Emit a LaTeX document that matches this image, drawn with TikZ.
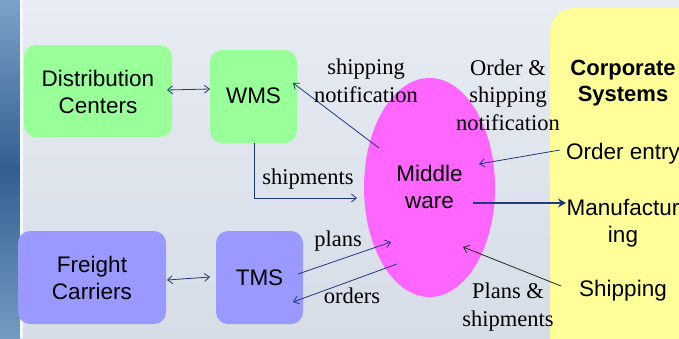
\documentclass[tikz,border=0pt]{standalone}
\usepackage{fontspec}
\setmainfont{Liberation Serif}
\setsansfont{Liberation Sans}
\usetikzlibrary{arrows.meta,shapes.geometric}

\definecolor{bgtop}{HTML}{E8ECF3}
\definecolor{bgbot}{HTML}{D6DDE7}
\definecolor{stripA}{HTML}{7AA3C8}
\definecolor{stripB}{HTML}{335E90}
\definecolor{dcgreen}{HTML}{99FF99}
\definecolor{fcblue}{HTML}{9999FF}
\definecolor{mwpink}{HTML}{FF66FF}
\definecolor{corpyellow}{HTML}{FFFF99}
\definecolor{linkblue}{HTML}{1F3A78}

\tikzset{
  sysbox/.style={rounded corners=12pt, inner sep=0pt},
  boxtext/.style={font=\sffamily\fontsize{22.5}{27}\selectfont, align=center, text=black},
  flowlabel/.style={font=\rmfamily\fontsize{22.5}{27.5}\selectfont, align=center, text=black, inner sep=0pt},
  link/.style={draw=linkblue, line width=0.8pt, -{Straight Barb[length=5pt,width=8pt]}},
  twoway/.style={draw=linkblue, line width=0.8pt, {Straight Barb[length=5pt,width=8pt]}-{Straight Barb[length=5pt,width=8pt]}},
  bold link/.style={draw=linkblue, line width=1.8pt, -{Stealth[length=8pt,width=9pt]}},
}

\begin{document}
\begin{tikzpicture}[x=1pt,y=-1pt]
  \useasboundingbox (0,0) rectangle (679,338);
  % backdrop
  \shade[top color=bgtop, bottom color=bgbot] (0,0) rectangle (679,338);
  \shade[top color=stripA, bottom color=stripA!90!stripB, middle color=stripB] (0,0) rectangle (20,338);
  \fill[white!75!bgbot] (20,0) rectangle (23,338);

  % corporate column
  \begin{scope}
    \clip (0,0) rectangle (679,338);
    \fill[corpyellow, rounded corners=24pt] (550,8) rectangle (720,380);
  \end{scope}

  % systems
  \fill[dcgreen, sysbox] (24,45) rectangle (172,137);
  \node[boxtext] (dc) at (98,92) {Distribution\\Centers};
  \fill[dcgreen, sysbox] (210,50) rectangle (297,143);
  \node[boxtext] (wms) at (253.5,96) {WMS};
  \fill[fcblue, sysbox] (18,231) rectangle (166,324);
  \node[boxtext] (fc) at (92,278) {Freight\\Carriers};
  \fill[fcblue, sysbox] (216,231) rectangle (303,324);
  \node[boxtext] (tms) at (259.5,278) {TMS};

  \fill[mwpink] (429.5,187.5) ellipse [x radius=65.5, y radius=109.5];
  \node[boxtext] (mw) at (429.5,187) {Middle\\ware};

  \node[boxtext, font=\sffamily\bfseries\fontsize{22}{26}\selectfont] (corp) at (623,83) {Corporate\\Systems};
  \node[boxtext] (oe) at (623,154) {Order entry};
  \node[boxtext] (mf) at (623,223) {Manufactur\\ing};
  \node[boxtext] (sh) at (623,291) {Shipping};

  % anchor points of the connectors
  \coordinate (dcR) at (167,90);
  \coordinate (wmsL) at (210,89);
  \coordinate (fcR) at (167,280);
  \coordinate (tmsL) at (210,277);
  \coordinate (wmsTip) at (293,83);
  \coordinate (mwNW) at (379,148);
  \coordinate (wmsB) at (254,143);
  \coordinate (mwW) at (357,198);
  \coordinate (oeL) at (560,150);
  \coordinate (mwE) at (479,164);
  \coordinate (mwOut) at (473,203);
  \coordinate (mfL) at (566,203);
  \coordinate (shL) at (561,286);
  \coordinate (mwSE) at (463,247);
  \coordinate (tmsE) at (298,274);
  \coordinate (mwSW) at (391,242);
  \coordinate (mwS) at (397,264);
  \coordinate (tmsSE) at (293,302);

  % connectors
  \draw[twoway] (dcR) -- (wmsL);
  \draw[twoway] (fcR) -- (tmsL);
  \draw[link] (mwNW) -- (wmsTip);
  \draw[link] (wmsB) |- (mwW);
  \draw[link] (oeL) -- (mwE);
  \draw[bold link] (mwOut) -- (mfL);
  \draw[link, draw=black!85] (shL) -- (mwSE);
  \draw[link] (tmsE) -- (mwSW);
  \draw[link] (mwS) -- (tmsSE);

  % flow labels
  \node[flowlabel] (l1) at (366,81) {shipping\\notification};
  \node[flowlabel] (l2) at (508,95) {Order \&\\shipping\\notification};
  \node[flowlabel] (l3) at (308,179) {shipments};
  \node[flowlabel] (l4) at (338,241) {plans};
  \node[flowlabel] (l5) at (352,296) {orders};
  \node[flowlabel] (l6) at (508,307) {Plans \&\\shipments};
\end{tikzpicture}
\end{document}
